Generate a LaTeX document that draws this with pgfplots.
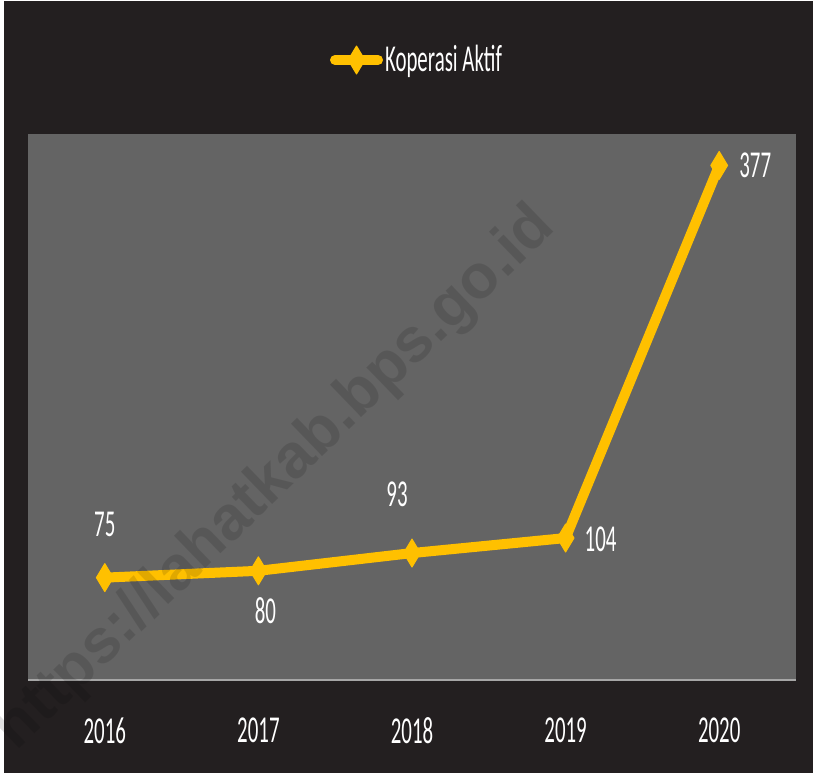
\documentclass[border=0pt]{standalone}
\usepackage{pgfplots}
\pgfplotsset{compat=1.18}
\usepackage{fontspec}
\setmainfont{Carlito}[FakeStretch=0.55]
\newfontfamily\wmfont{Liberation Sans}
\definecolor{bgdark}{HTML}{231F20}
\definecolor{plotgray}{HTML}{646464}
\definecolor{lineyellow}{HTML}{FFC000}
\definecolor{axisgray}{HTML}{A6A6A6}
\newcommand\lbl{\fontsize{19}{22}\selectfont}
\begin{document}
\begin{tikzpicture}
\fill[white] (0,0) rectangle (406.5pt,386.5pt);
\fill[bgdark] (2pt,0) rectangle (406.5pt,386pt);
\begin{axis}[
  at={(14pt,46.5pt)}, anchor=south west,
  scale only axis, width=384pt, height=273pt,
  xmin=-0.5, xmax=4.5, ymin=0, ymax=400,
  axis background/.style={fill=plotgray},
  axis x line*=bottom, axis y line=none,
  x axis line style={draw=axisgray, line width=1pt},
  xtick={0,1,2,3,4},
  xticklabels={2016,2017,2018,2019,2020},
  ytick=\empty,
  major tick length=0pt,
  /pgf/number format/assume math mode=true,
  xticklabel style={text=white, font=\lbl, inner sep=0pt, anchor=north, yshift=-18.5pt},
  clip=false,
  legend style={at={(axis description cs:0.5,1)}, anchor=center, yshift=37pt, xshift=2.5pt,
    draw=none, fill=none, text=white, font=\lbl, inner sep=0pt,
    nodes={inner sep=1pt},
    /tikz/every odd column/.append style={column sep=0pt}},
  legend image code/.code={\draw[#1, mark repeat=2, mark phase=2] plot coordinates {(0pt,0pt) (10.75pt,0pt) (21.5pt,0pt)};},
]
\addplot[color=lineyellow, line width=5pt, line cap=round, line join=round,
  mark=diamond*, mark size=7pt,
  mark options={xscale=0.8, fill=lineyellow, draw=lineyellow, line width=0.5pt}]
  coordinates {(0,75) (1,80) (2,93) (3,104) (4,377)};
\addlegendentry{Koperasi Aktif}
\node[text=white, font=\lbl, inner sep=0pt, yshift=26.5pt] at (axis cs:0,75) {75};
\node[text=white, font=\lbl, inner sep=0pt, xshift=3.5pt, yshift=-20pt] at (axis cs:1,80) {80};
\node[text=white, font=\lbl, inner sep=0pt, xshift=-7.5pt, yshift=29.5pt] at (axis cs:2,93) {93};
\node[text=white, font=\lbl, inner sep=0pt, xshift=17.5pt, yshift=-0.5pt] at (axis cs:3,104) {104};
\node[text=white, font=\lbl, inner sep=0pt, xshift=18pt] at (axis cs:4,377) {377};
\end{axis}
\node[overlay, rotate=44, opacity=0.12, text=black, inner sep=0pt,
  font=\wmfont\bfseries\fontsize{31}{31}\selectfont] at (138pt,147pt) {https://lahatkab.bps.go.id};
\end{tikzpicture}
\end{document}
